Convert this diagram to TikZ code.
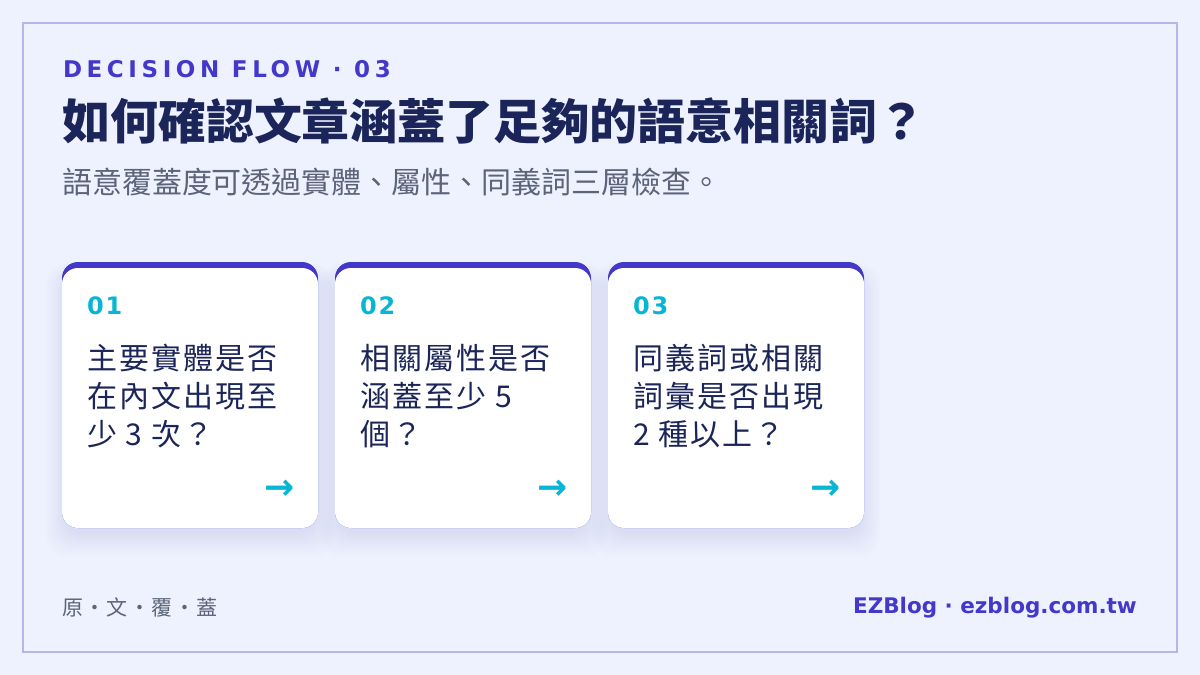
\documentclass[tikz,border=0pt]{standalone}
\usepackage{fontspec}
\setmainfont{Noto Sans CJK TC}
\newfontfamily\cjk{Noto Sans CJK TC}
\newfontfamily\cjkspaced[LetterSpace=7, WordSpace=2]{Noto Sans CJK TC}
\newfontfamily\footspaced[LetterSpace=7]{Noto Sans CJK TC}
\newfontfamily\latin{DejaVu Sans}
\newfontfamily\kickerfont[LetterSpace=20]{DejaVu Sans}
\newfontfamily\numfont[LetterSpace=8]{DejaVu Sans}
\definecolor{pagebg}{HTML}{EEF2FE}
\definecolor{framec}{HTML}{B4B6EC}
\definecolor{accent}{HTML}{4338CA}
\definecolor{cyanc}{HTML}{06B6D4}
\definecolor{navy}{HTML}{1B2559}
\definecolor{slate}{HTML}{5B6478}
\definecolor{shadowc}{HTML}{8088C8}

\begin{document}
\begin{tikzpicture}[x=1pt, y=-1pt,
    txt/.style={anchor=base west, inner sep=0pt, outer sep=0pt},
    cardtop/.style={fill=accent, rounded corners=16pt},
    cardbody/.style={fill=white, rounded corners=16pt},
    cardshadow/.style={fill=shadowc, opacity=0.016, rounded corners=20pt}]
\useasboundingbox (0,0) rectangle (1200,675);
\fill[pagebg] (0,0) rectangle (1200,675);
\draw[framec, line width=2pt] (23,23) rectangle (1177,652);

% heading
\node (kicker) at (63,77.5) [txt, text=accent, font=\kickerfont\bfseries\fontsize{23pt}{28pt}\selectfont] {DECISION FLOW · 03};
\node (title) at (62,139) [txt, text=navy, font=\cjk\bfseries\fontsize{48pt}{56pt}\selectfont] {如何確認文章涵蓋了足夠的語意相關詞？};
\node (subtitle) at (62,193) [txt, text=slate, font=\cjk\fontsize{30pt}{36pt}\selectfont] {語意覆蓋度可透過實體、屬性、同義詞三層檢查。};

% cards
\foreach \x/\n/\t in {62/01/{主要實體是否\\在內文出現至\\少 3 次？},
                      335/02/{相關屬性是否\\涵蓋至少 5\\個？},
                      608/03/{同義詞或相關\\詞彙是否出現\\2 種以上？}} {
    \foreach \s in {1,...,10}
        \fill[cardshadow] (\x+4-\s*2,276-\s*1.2) rectangle (\x+252+\s*2,532+\s*2.4);
    \fill[cardtop] (\x,262) rectangle ++(256,266);
    \fill[cardbody] (\x,268) rectangle ++(256,260);
    \node (num\n) at (\x+25,314) [txt, text=cyanc, font=\numfont\bfseries\fontsize{24pt}{28pt}\selectfont] {\n};
    \node (text\n) at (\x+25,445) [txt, align=left, text=navy, font=\cjkspaced\fontsize{30pt}{38pt}\selectfont] {\t};
    \node (arrow\n) at (\x+233,490) [anchor=east, inner sep=0pt, text=cyanc, font=\latin\bfseries\fontsize{36pt}{40pt}\selectfont] {→};
}

% footer
\node (source) at (62,615) [txt, text=slate, font=\footspaced\fontsize{21pt}{26pt}\selectfont] {原·文·覆·蓋};
\node (brand) at (1137,613) [anchor=base east, inner sep=0pt, text=accent, font=\latin\bfseries\fontsize{21.5pt}{26pt}\selectfont] {EZBlog · ezblog.com.tw};
\end{tikzpicture}
\end{document}
